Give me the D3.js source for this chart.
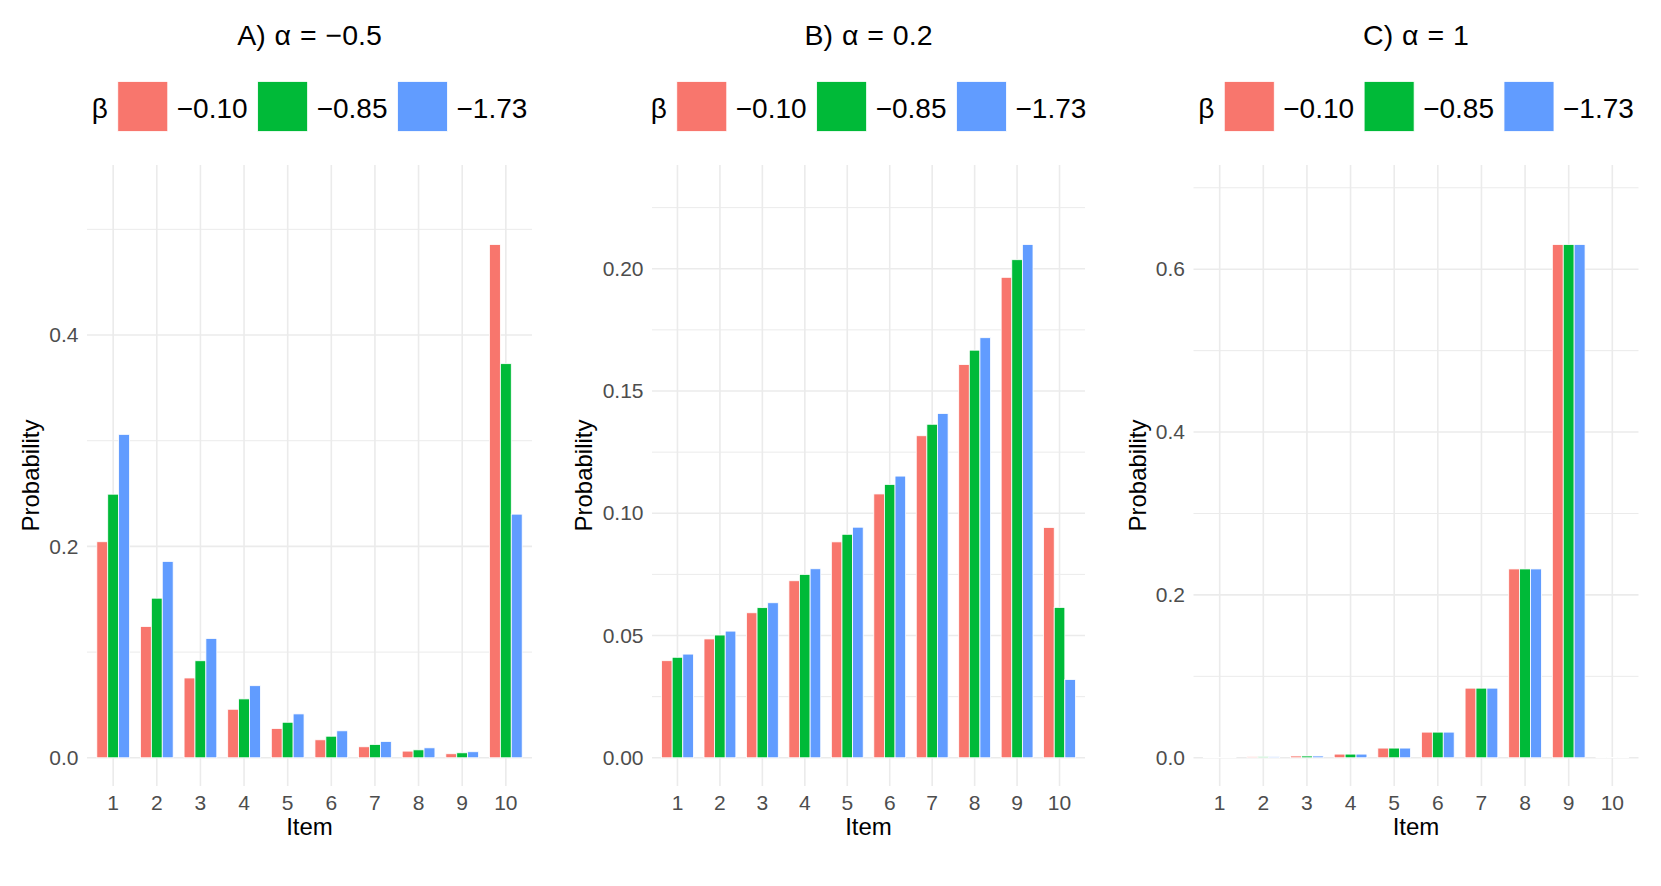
<!DOCTYPE html>
<html>
<head>
<meta charset="utf-8">
<script src="https://cdn.jsdelivr.net/npm/d3@7"></script>
<style>
  body { margin: 0; background: #fff; }
  svg { display: block; font-family: "Liberation Sans", Arial, Helvetica, sans-serif; }
</style>
</head>
<body>
<div id="chart"></div>
<script>
const items = ["1", "2", "3", "4", "5", "6", "7", "8", "9", "10"];
const betaLevels = ["\u22120.10", "\u22120.85", "\u22121.73"];
const colors = ["#F8766D", "#00BA38", "#619CFF"];

// A) alpha = -0.5
const probA1 = [0.2044, 0.1242, 0.0755, 0.0459, 0.0277, 0.0170, 0.0104, 0.0063, 0.0038, 0.4856];
const probA2 = [0.2494, 0.1510, 0.0918, 0.0557, 0.0336, 0.0204, 0.0126, 0.0075, 0.0047, 0.3729];
const probA3 = [0.3060, 0.1858, 0.1129, 0.0682, 0.0415, 0.0255, 0.0154, 0.0094, 0.0057, 0.2305];
// B) alpha = 0.2
const probB1 = [0.0397, 0.0486, 0.0593, 0.0724, 0.0883, 0.1079, 0.1317, 0.1608, 0.1965, 0.0942];
const probB2 = [0.0411, 0.0502, 0.0614, 0.0750, 0.0914, 0.1118, 0.1364, 0.1667, 0.2037, 0.0615];
const probB3 = [0.0424, 0.0518, 0.0634, 0.0773, 0.0943, 0.1152, 0.1408, 0.1718, 0.2099, 0.0320];
// C) alpha = 1
const probC1 = [0.0005, 0.0012, 0.0022, 0.0045, 0.0119, 0.0315, 0.0855, 0.2319, 0.6303, 0.0005];
const probC2 = [0.0005, 0.0012, 0.0022, 0.0045, 0.0119, 0.0315, 0.0855, 0.2319, 0.6303, 0.0005];
const probC3 = [0.0005, 0.0012, 0.0022, 0.0045, 0.0119, 0.0315, 0.0855, 0.2319, 0.6303, 0.0005];

const ticksA = [0, 0.2, 0.4];
const ticksB = [0, 0.05, 0.10, 0.15, 0.20];
const ticksC = [0, 0.2, 0.4, 0.6];

const W = 1661, H = 886;
const panelTop = 165, panelBottom = 786;

const panels = [
  { title: "A) \u03b1 = \u22120.5", series: [probA1, probA2, probA3], ticks: ticksA, fmt: d3.format(".1f"),
    left: 87, right: 532, ytitleX: 38.5 },
  { title: "B) \u03b1 = 0.2", series: [probB1, probB2, probB3], ticks: ticksB, fmt: d3.format(".2f"),
    left: 652, right: 1085, ytitleX: 592 },
  { title: "C) \u03b1 = 1", series: [probC1, probC2, probC3], ticks: ticksC, fmt: d3.format(".1f"),
    left: 1193.5, right: 1638.5, ytitleX: 1146 }
];

const svg = d3.select("#chart")
  .append("svg")
  .attr("width", W)
  .attr("height", H);

panels.forEach(p => {
  const g = svg.append("g");
  const center = (p.left + p.right) / 2;

  const x = d3.scaleBand()
    .domain(items)
    .range([p.left, p.right])
    .paddingInner(0.25)
    .paddingOuter(0.225);

  const dodge = d3.scaleBand()
    .domain(d3.range(p.series.length))
    .range([0, x.bandwidth()]);

  const upper = d3.max(p.series, s => d3.max(s)) * 1.1;
  const y = d3.scaleLinear()
    .domain([-0.05 * upper, 1.05 * upper])
    .range([panelBottom, panelTop]);

  // minor grid
  const step = p.ticks[1] - p.ticks[0];
  const minor = d3.range(step / 2, y.domain()[1], step);
  g.append("g")
    .selectAll("line")
    .data(minor)
    .join("line")
    .attr("x1", p.left).attr("x2", p.right)
    .attr("y1", d => y(d)).attr("y2", d => y(d))
    .attr("stroke", "#EBEBEB")
    .attr("stroke-width", 1);

  // major grid, horizontal
  g.append("g")
    .selectAll("line")
    .data(p.ticks)
    .join("line")
    .attr("x1", p.left).attr("x2", p.right)
    .attr("y1", d => y(d)).attr("y2", d => y(d))
    .attr("stroke", "#EBEBEB")
    .attr("stroke-width", 1.6);

  // major grid, vertical
  g.append("g")
    .selectAll("line")
    .data(items)
    .join("line")
    .attr("x1", d => x(d) + x.bandwidth() / 2)
    .attr("x2", d => x(d) + x.bandwidth() / 2)
    .attr("y1", panelTop).attr("y2", panelBottom)
    .attr("stroke", "#EBEBEB")
    .attr("stroke-width", 1.6);

  // bars
  p.series.forEach((vals, s) => {
    g.append("g")
      .selectAll("rect")
      .data(vals)
      .join("rect")
      .attr("x", (d, i) => x(items[i]) + dodge(s))
      .attr("width", dodge.bandwidth())
      .attr("y", d => y(d))
      .attr("height", d => y(0) - y(d))
      .attr("fill", colors[s])
      .attr("stroke", "#fff")
      .attr("stroke-width", 0.8);
  });

  // axes
  const yAxis = g.append("g")
    .attr("transform", `translate(${p.left},0)`)
    .call(d3.axisLeft(y).tickValues(p.ticks).tickFormat(p.fmt).tickSize(0).tickPadding(8.5));
  yAxis.select(".domain").remove();
  yAxis.selectAll("text")
    .attr("fill", "#4D4D4D")
    .style("font-size", "21px")
    .style("font-family", "Liberation Sans, Arial, sans-serif");

  const xAxis = g.append("g")
    .attr("transform", `translate(0,${panelBottom})`)
    .call(d3.axisBottom(x).tickSize(0).tickPadding(9.5));
  xAxis.select(".domain").remove();
  xAxis.selectAll("text")
    .attr("fill", "#4D4D4D")
    .style("font-size", "21px")
    .style("font-family", "Liberation Sans, Arial, sans-serif");

  // axis titles
  g.append("text")
    .attr("x", center)
    .attr("y", 835)
    .attr("text-anchor", "middle")
    .style("font-size", "24px")
    .text("Item");

  g.append("text")
    .attr("transform", `translate(${p.ytitleX},${(panelTop + panelBottom) / 2}) rotate(-90)`)
    .attr("text-anchor", "middle")
    .style("font-size", "24px")
    .text("Probability");

  // title
  g.append("text")
    .attr("x", center)
    .attr("y", 45)
    .attr("text-anchor", "middle")
    .style("font-size", "28.5px")
    .style("word-spacing", "1px")
    .text(p.title);

  // legend
  const leg = g.append("g");
  const beta = leg.append("text")
    .attr("x", 0).attr("y", 117.5)
    .style("font-size", "28px")
    .text("\u03b2");
  let cx = beta.node().getComputedTextLength() + 10;
  betaLevels.forEach((lab, s) => {
    leg.append("rect")
      .attr("x", cx).attr("y", 81.5)
      .attr("width", 50).attr("height", 50)
      .attr("fill", colors[s])
      .attr("stroke", "#fff")
      .attr("stroke-width", 0.8);
    cx += 50 + 9;
    const t = leg.append("text")
      .attr("x", cx).attr("y", 117.5)
      .style("font-size", "28px")
      .text(lab);
    cx += t.node().getComputedTextLength() + 10;
  });
  const legW = cx - 10;
  leg.attr("transform", `translate(${center - legW / 2},0)`);
});
</script>
</body>
</html>
